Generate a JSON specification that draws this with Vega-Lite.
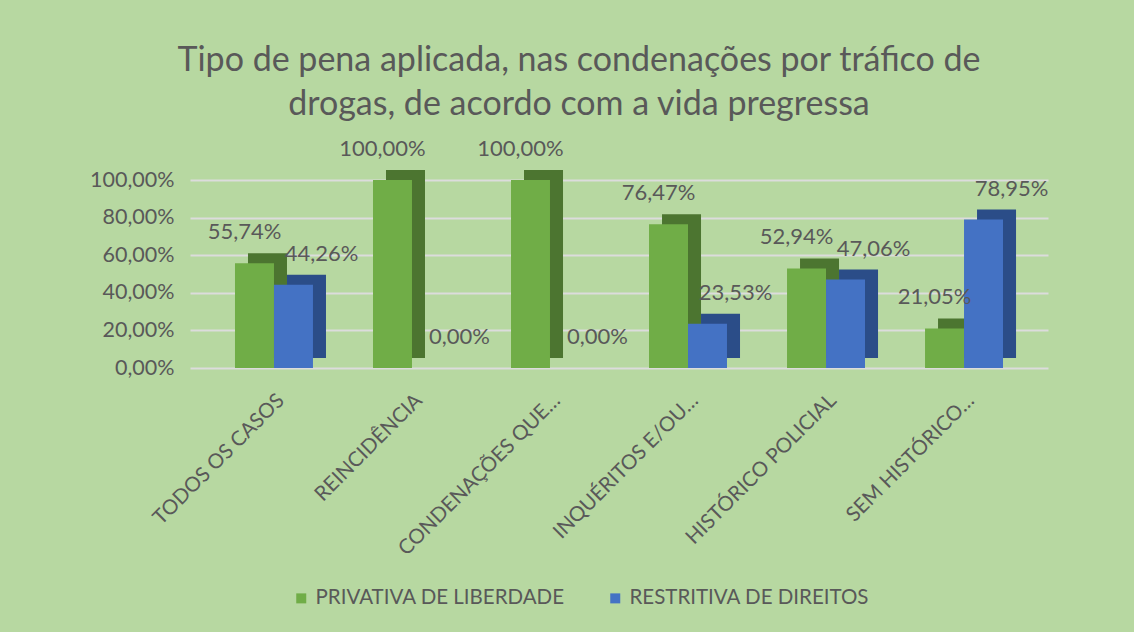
{
  "$schema": "https://vega.github.io/schema/vega-lite/v6.json",
  "width": 858,
  "height": 188,
  "autosize": {"type": "none"},
  "padding": {"left": 190, "top": 180, "right": 86, "bottom": 264},
  "background": "#b7d8a1",
  "title": {
    "text": ["Tipo de pena aplicada, nas condenações por tráfico de", "drogas, de acordo com a vida pregressa"],
    "fontSize": 34,
    "font": "Lato",
    "fontWeight": "normal",
    "color": "#595959",
    "lineHeight": 44,
    "dx": -40,
    "offset": 16
  },
  "data": {
    "values": [
      {"categoria": "TODOS OS CASOS", "tipo": "PRIVATIVA DE LIBERDADE", "valor": 0.5574},
      {"categoria": "TODOS OS CASOS", "tipo": "RESTRITIVA DE DIREITOS", "valor": 0.4426},
      {"categoria": "REINCIDÊNCIA", "tipo": "PRIVATIVA DE LIBERDADE", "valor": 1.0},
      {"categoria": "REINCIDÊNCIA", "tipo": "RESTRITIVA DE DIREITOS", "valor": 0.0},
      {"categoria": "CONDENAÇÕES QUE…", "tipo": "PRIVATIVA DE LIBERDADE", "valor": 1.0},
      {"categoria": "CONDENAÇÕES QUE…", "tipo": "RESTRITIVA DE DIREITOS", "valor": 0.0},
      {"categoria": "INQUÉRITOS E/OU…", "tipo": "PRIVATIVA DE LIBERDADE", "valor": 0.7647},
      {"categoria": "INQUÉRITOS E/OU…", "tipo": "RESTRITIVA DE DIREITOS", "valor": 0.2353},
      {"categoria": "HISTÓRICO POLICIAL", "tipo": "PRIVATIVA DE LIBERDADE", "valor": 0.5294},
      {"categoria": "HISTÓRICO POLICIAL", "tipo": "RESTRITIVA DE DIREITOS", "valor": 0.4706},
      {"categoria": "SEM HISTÓRICO…", "tipo": "PRIVATIVA DE LIBERDADE", "valor": 0.2105},
      {"categoria": "SEM HISTÓRICO…", "tipo": "RESTRITIVA DE DIREITOS", "valor": 0.7895}
    ]
  },
  "encoding": {
    "x": {
      "field": "categoria",
      "type": "nominal",
      "sort": null,
      "scale": {"paddingInner": 0.435, "paddingOuter": 0.326},
      "axis": {
        "title": null,
        "labelAngle": -45,
        "labelFontSize": 20.5,
        "labelFont": "Lato",
        "labelColor": "#595959",
        "labelPadding": 22,
        "ticks": false,
        "domain": false,
        "grid": false,
        "labelLimit": 300
      }
    },
    "y": {
      "field": "valor",
      "type": "quantitative",
      "scale": {"domain": [0, 1], "nice": false},
      "axis": {
        "title": null,
        "values": [0, 0.2, 0.4, 0.6, 0.8, 1],
        "format": ".2%",
        "labelFontSize": 21.5,
        "labelFont": "Lato",
        "labelColor": "#595959",
        "labelPadding": 16,
        "ticks": false,
        "domain": false,
        "grid": true,
        "gridColor": "#dcdcdc",
        "gridWidth": 2
      }
    }
  },
  "layer": [
    {
      "mark": {"type": "bar", "yOffset": -10},
      "encoding": {
        "xOffset": {
          "field": "tipo",
          "type": "nominal",
          "sort": ["PRIVATIVA DE LIBERDADE", "RESTRITIVA DE DIREITOS"],
          "scale": {"paddingInner": 0, "paddingOuter": 0, "range": [13, 91]}
        },
        "color": {
          "field": "tipo",
          "type": "nominal",
          "scale": {"domain": ["PRIVATIVA DE LIBERDADE", "RESTRITIVA DE DIREITOS"], "range": ["#4c7530", "#2b4d88"]},
          "legend": null
        }
      }
    },
    {
      "layer": [
        {
          "mark": {"type": "bar"},
          "encoding": {
            "color": {
              "field": "tipo",
              "type": "nominal",
              "scale": {"domain": ["PRIVATIVA DE LIBERDADE", "RESTRITIVA DE DIREITOS"], "range": ["#70ad47", "#4472c4"]},
              "legend": {
                "title": null,
                "orient": "none",
                "legendX": 101,
                "legendY": 408,
                "direction": "horizontal",
                "symbolType": "square",
                "symbolSize": 100,
                "symbolStrokeWidth": 0,
                "labelFontSize": 20.5,
                "labelFont": "Lato",
                "labelColor": "#595959",
                "labelLimit": 400,
                "labelOffset": 4,
                "columnPadding": 40
              }
            }
          }
        },
        {
          "transform": [{"filter": "datum.tipo === 'PRIVATIVA DE LIBERDADE'"}],
          "mark": {"type": "text", "dy": -31, "dx": -10, "fontSize": 22, "font": "Lato", "color": "#595959"},
          "encoding": {"text": {"field": "valor", "type": "quantitative", "format": ".2%"}}
        },
        {
          "transform": [{"filter": "datum.tipo === 'RESTRITIVA DE DIREITOS'"}],
          "mark": {"type": "text", "dy": -31, "dx": 28, "fontSize": 22, "font": "Lato", "color": "#595959"},
          "encoding": {"text": {"field": "valor", "type": "quantitative", "format": ".2%"}}
        }
      ],
      "encoding": {
        "xOffset": {
          "field": "tipo",
          "type": "nominal",
          "sort": ["PRIVATIVA DE LIBERDADE", "RESTRITIVA DE DIREITOS"],
          "scale": {"paddingInner": 0, "paddingOuter": 0}
        }
      }
    }
  ],
  "resolve": {"scale": {"color": "independent", "xOffset": "independent"}},
  "config": {
    "view": {"stroke": null},
    "font": "Lato",
    "locale": {"number": {"decimal": ",", "thousands": ".", "grouping": [3], "currency": ["R$", ""]}}
  }
}
